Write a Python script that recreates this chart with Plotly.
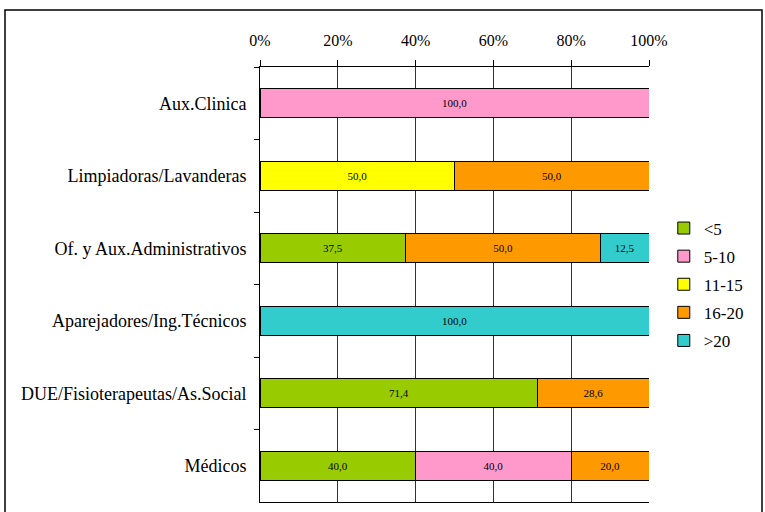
import plotly.graph_objects as go

categories = [
    "Aux.Clinica",
    "Limpiadoras/Lavanderas",
    "Of. y Aux.Administrativos",
    "Aparejadores/Ing.Técnicos",
    "DUE/Fisioterapeutas/As.Social",
    "Médicos",
]
series_names = ["<5", "5-10", "11-15", "16-20", ">20"]
s_lt5 = [None, None, 37.5, None, 71.4, 40.0]
s_5_10 = [100.0, None, None, None, None, 40.0]
s_11_15 = [None, 50.0, None, None, None, None]
s_16_20 = [None, 50.0, 50.0, None, 28.6, 20.0]
s_gt20 = [None, None, 12.5, 100.0, None, None]
series_values = [s_lt5, s_5_10, s_11_15, s_16_20, s_gt20]
colors = ["#99CC00", "#FF99CC", "#FFFF00", "#FF9900", "#33CCCC"]
x_ticks = [0, 20, 40, 60, 80, 100]
x_tick_labels = [f"{v}%" for v in x_ticks]

FONT = "Liberation Serif"

fig = go.Figure()
for name, vals, col in zip(series_names, series_values, colors):
    fig.add_trace(go.Bar(
        y=categories, x=vals, name=name, orientation="h",
        marker=dict(color=col, line=dict(color="black", width=1)),
        texttemplate="%{x:.1f}", textposition="inside",
        insidetextanchor="middle", textangle=0,
        insidetextfont=dict(family=FONT, size=11, color="black"),
        legendgroup=name,
    ))

fig.update_layout(
    width=765, height=512,
    barmode="stack", bargap=0.6,
    separators=",.",
    plot_bgcolor="white", paper_bgcolor="white",
    font=dict(family=FONT, size=16, color="black"),
    margin=dict(l=260, r=116, t=67, b=10),
    xaxis=dict(
        side="top", range=[0, 100], tickvals=x_ticks, ticktext=x_tick_labels,
        tickfont=dict(family=FONT, size=16, color="black"),
        ticks="outside", ticklen=6, tickcolor="black", ticklabelstandoff=8,
        showline=True, linecolor="black", linewidth=1, mirror=True,
        showgrid=True, gridcolor="#333", gridwidth=1, zeroline=False,
    ),
    yaxis=dict(
        autorange="reversed", tickson="boundaries", ticks="outside",
        ticklen=5, tickcolor="black", showline=True, linecolor="black",
        linewidth=1, showgrid=False, ticklabelstandoff=9,
        tickfont=dict(family=FONT, size=18, color="black"),
    ),
    legend=dict(
        x=1.038, xanchor="left", y=0.5, yanchor="middle",
        traceorder="grouped", tracegroupgap=3,
        font=dict(family=FONT, size=17, color="black"),
    ),
    shapes=[dict(
        type="rect", xref="paper", yref="paper",
        x0=-0.6555, x1=1.2905, y0=-0.05, y1=1.131,
        line=dict(color="black", width=1.5), fillcolor="rgba(0,0,0,0)",
        layer="below",
    )],
)

fig.write_html("out.html", config={"displayModeBar": False},
               post_script="document.body.style.margin='0';")
